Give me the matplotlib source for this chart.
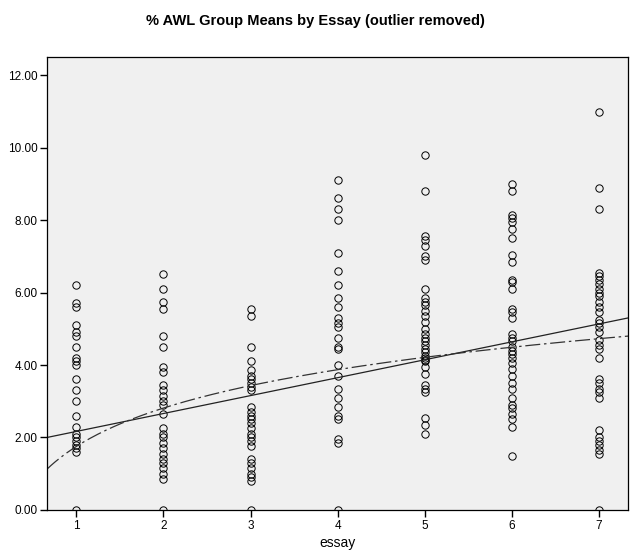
import numpy as np
import matplotlib
matplotlib.use("Agg")
import matplotlib.pyplot as plt

plt.rcParams['font.family'] = ['Liberation Sans', 'DejaVu Sans']

# % AWL group means per essay
essay_1 = [6.2, 5.7, 5.6, 5.1, 4.9, 4.8, 4.5, 4.2, 4.1, 4.0, 3.6, 3.3, 3.0, 2.6, 2.3,
           2.1, 2.0, 1.9, 1.8, 1.7, 1.6, 0.0]
essay_2 = [6.5, 6.1, 5.75, 5.55, 4.8, 4.5, 3.95, 3.8, 3.45, 3.3, 3.15, 3.0, 2.9, 2.65,
           2.25, 2.1, 2.0, 1.85, 1.7, 1.55, 1.4, 1.3, 1.15, 1.0, 0.85, 0.0]
essay_3 = [5.55, 5.35, 4.5, 4.1, 3.85, 3.7, 3.6, 3.5, 3.4, 3.3, 2.85, 2.7, 2.6, 2.5, 2.4,
           2.25, 2.1, 2.0, 1.9, 1.75, 1.4, 1.3, 1.15, 1.0, 0.9, 0.8, 0.0]
essay_4 = [9.1, 8.6, 8.3, 8.0, 7.1, 6.6, 6.2, 5.85, 5.6, 5.3, 5.15, 5.05, 4.75, 4.5, 4.45,
           4.0, 3.7, 3.35, 3.1, 2.85, 2.6, 2.5, 1.95, 1.85, 0.0]
essay_5 = [9.8, 8.8, 7.55, 7.45, 7.3, 7.0, 6.9, 6.1, 5.85, 5.75, 5.65, 5.5, 5.35, 5.2, 5.0,
           4.85, 4.75, 4.65, 4.55, 4.45, 4.35, 4.25, 4.2, 4.15, 4.1, 3.95, 3.75, 3.45,
           3.35, 3.25, 2.55, 2.35, 2.1]
essay_6 = [9.0, 8.8, 8.15, 8.05, 7.95, 7.75, 7.5, 7.05, 6.85, 6.35, 6.3, 6.1, 5.55, 5.45,
           5.3, 4.85, 4.75, 4.65, 4.5, 4.4, 4.3, 4.2, 4.05, 3.9, 3.7, 3.5, 3.35, 3.1, 2.9,
           2.8, 2.65, 2.5, 2.3, 1.5]
essay_7 = [11.0, 8.9, 8.3, 6.55, 6.45, 6.35, 6.25, 6.1, 6.0, 5.9, 5.75, 5.6, 5.45, 5.25,
           5.15, 5.05, 4.9, 4.7, 4.55, 4.45, 4.2, 3.6, 3.5, 3.35, 3.25, 3.1, 2.2, 2.0, 1.9,
           1.8, 1.65, 1.55, 0.0]

# fit lines: linear (a + b*x) and logarithmic (a + b*ln x)
linear_fit = (1.67, 0.495)
log_fit = (1.75, 1.53)

groups = [essay_1, essay_2, essay_3, essay_4, essay_5, essay_6, essay_7]

fig = plt.figure(figsize=(6.3, 5.5), dpi=100)
ax = fig.add_axes([0.075, 0.073, 0.922, 0.823])
ax.set_facecolor('#f0f0f0')

for i, vals in enumerate(groups, start=1):
    ax.plot([i] * len(vals), vals, 'o', mfc='none', mec='black', ms=5.3, mew=0.7)

xs = np.linspace(0.667, 7.333, 300)
ax.plot(xs, linear_fit[0] + linear_fit[1] * xs, color='#222222', lw=0.9)
ax.plot(xs, log_fit[0] + log_fit[1] * np.log(xs), color='#333333', lw=0.9,
        linestyle=(0, (12, 3, 2, 3)))

ax.set_xlim(0.667, 7.333)
ax.set_ylim(0, 12.5)
ax.set_xticks(range(1, 8))
ax.set_yticks(np.arange(0, 13, 2))
ax.yaxis.set_major_formatter(matplotlib.ticker.FormatStrFormatter('%.2f'))
ax.tick_params(labelsize=8.5, length=5, width=1, direction='out')
ax.tick_params(axis='x', pad=2)
ax.tick_params(axis='y', pad=2)
for s in ax.spines.values():
    s.set_linewidth(0.9)

ax.set_xlabel('essay', fontsize=10, labelpad=3)
fig.text(0.5, 0.962, '% AWL Group Means by Essay (outlier removed)',
         ha='center', va='center', fontsize=10.5, fontweight='bold')

fig.savefig('out.png', dpi=100)
